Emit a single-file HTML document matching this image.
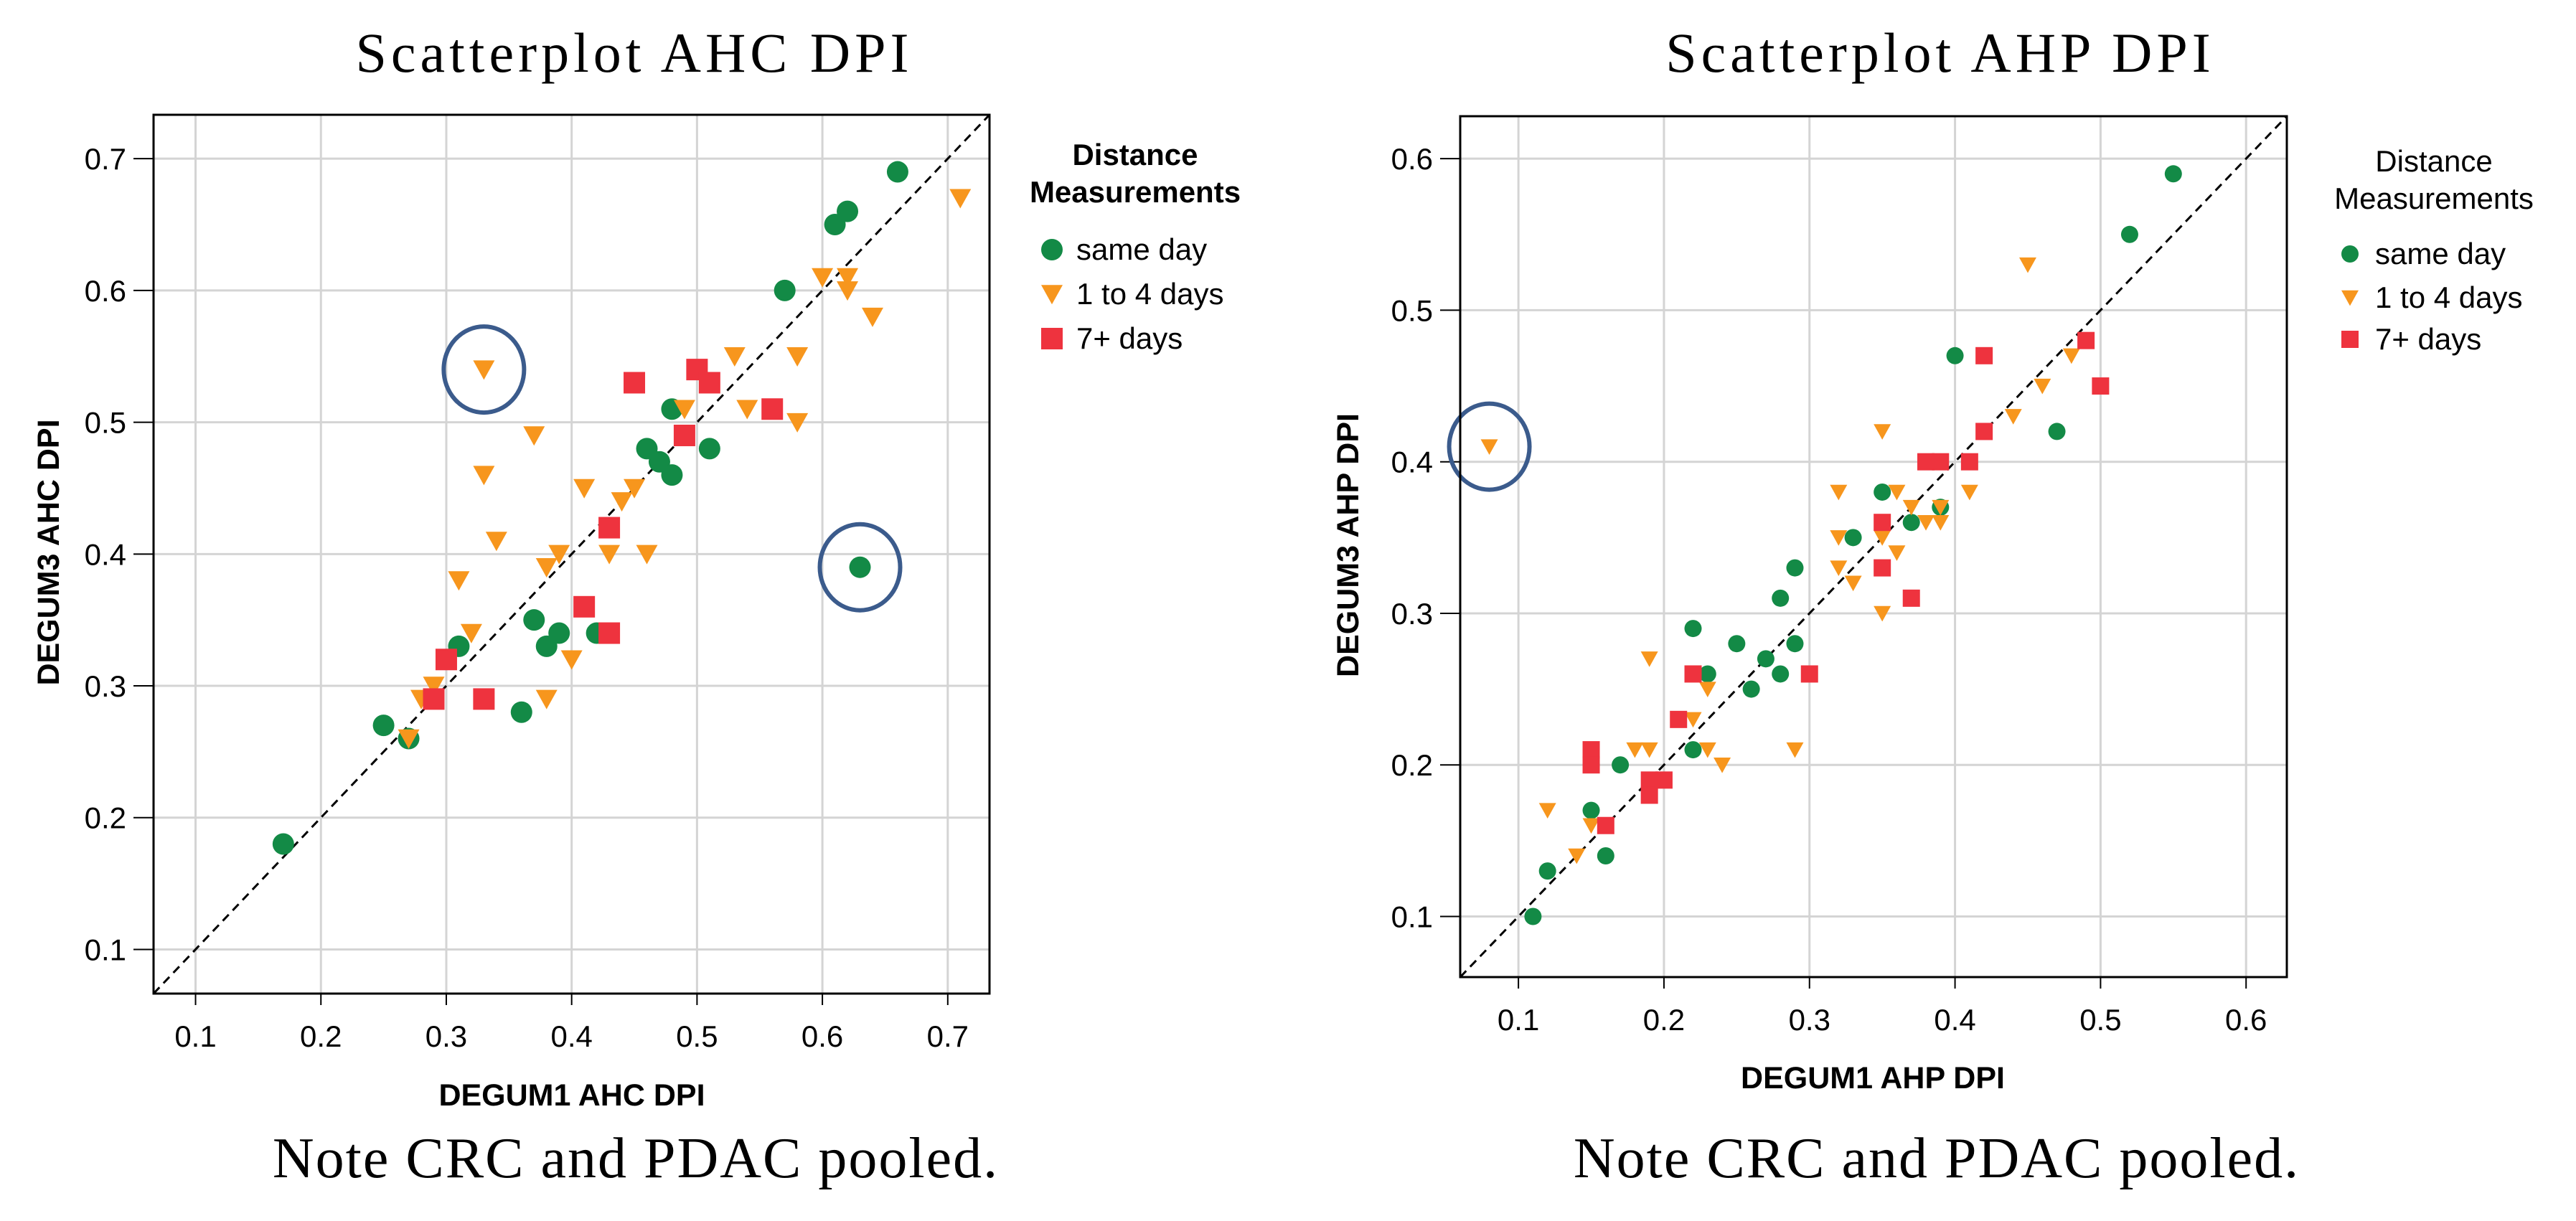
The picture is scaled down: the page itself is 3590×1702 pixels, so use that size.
<!DOCTYPE html>
<html><head><meta charset="utf-8"><style>
html,body{margin:0;padding:0;background:#fff;}
svg{display:block;}
</style></head><body>
<svg id="chart" width="3590" height="1702" xmlns="http://www.w3.org/2000/svg">
<rect x="0" y="0" width="3590" height="1702" fill="#fff"/>
<g id="left"></g>
<g id="right"></g>
</svg>
<script>
// ---- Left panel data (AHC DPI) ----
const ahcTicks = [0.1,0.2,0.3,0.4,0.5,0.6,0.7];
const ahcTickLabels = ["0.1","0.2","0.3","0.4","0.5","0.6","0.7"];
const ahcSameDayX = [0.17,0.25,0.27,0.31,0.36,0.37,0.38,0.39,0.42,0.46,0.47,0.48,0.48,0.51,0.57,0.61,0.62,0.66,0.63];
const ahcSameDayY = [0.18,0.27,0.26,0.33,0.28,0.35,0.33,0.34,0.34,0.48,0.47,0.46,0.51,0.48,0.60,0.65,0.66,0.69,0.39];
const ahc1to4X = [0.27,0.28,0.29,0.31,0.32,0.33,0.33,0.34,0.37,0.38,0.38,0.39,0.40,0.41,0.43,0.44,0.45,0.46,0.49,0.53,0.54,0.58,0.58,0.60,0.62,0.62,0.64,0.71];
const ahc1to4Y = [0.26,0.29,0.30,0.38,0.34,0.46,0.54,0.41,0.49,0.39,0.29,0.40,0.32,0.45,0.40,0.44,0.45,0.40,0.51,0.55,0.51,0.55,0.50,0.61,0.61,0.60,0.58,0.67];
const ahc7X = [0.29,0.30,0.33,0.41,0.43,0.43,0.45,0.49,0.50,0.51,0.56];
const ahc7Y = [0.29,0.32,0.29,0.36,0.42,0.34,0.53,0.49,0.54,0.53,0.51];
const ahcHighlightX = [0.33,0.63];
const ahcHighlightY = [0.54,0.39];

// ---- Right panel data (AHP DPI) ----
const ahpTicks = [0.1,0.2,0.3,0.4,0.5,0.6];
const ahpTickLabels = ["0.1","0.2","0.3","0.4","0.5","0.6"];
const ahpSameDayX = [0.11,0.12,0.15,0.16,0.17,0.22,0.22,0.23,0.25,0.26,0.27,0.28,0.28,0.29,0.29,0.33,0.35,0.37,0.39,0.40,0.47,0.52,0.55];
const ahpSameDayY = [0.10,0.13,0.17,0.14,0.20,0.29,0.21,0.26,0.28,0.25,0.27,0.31,0.26,0.33,0.28,0.35,0.38,0.36,0.37,0.47,0.42,0.55,0.59];
const ahp1to4X = [0.08,0.12,0.14,0.15,0.18,0.19,0.19,0.22,0.23,0.23,0.24,0.29,0.32,0.32,0.32,0.33,0.35,0.35,0.35,0.36,0.36,0.37,0.38,0.39,0.39,0.41,0.44,0.45,0.46,0.48];
const ahp1to4Y = [0.41,0.17,0.14,0.16,0.21,0.21,0.27,0.23,0.25,0.21,0.20,0.21,0.38,0.35,0.33,0.32,0.42,0.35,0.30,0.38,0.34,0.37,0.36,0.36,0.37,0.38,0.43,0.53,0.45,0.47];
const ahp7X = [0.15,0.15,0.16,0.19,0.19,0.20,0.21,0.22,0.30,0.35,0.35,0.37,0.38,0.39,0.41,0.42,0.42,0.49,0.50];
const ahp7Y = [0.21,0.20,0.16,0.19,0.18,0.19,0.23,0.26,0.26,0.36,0.33,0.31,0.40,0.40,0.40,0.42,0.47,0.48,0.45];
const ahpHighlightX = [0.08];
const ahpHighlightY = [0.41];

const NS = "http://www.w3.org/2000/svg";
const GREEN = "#138a46", ORANGE = "#f7961d", RED = "#ee333e";
function mk(tag, attrs, parent) {
  const e = document.createElementNS(NS, tag);
  for (const k in attrs) e.setAttribute(k, attrs[k]);
  parent.appendChild(e);
  return e;
}

function panel(g, cfg) {
  const sx = v => cfg.x0 + (v - cfg.d0) / (cfg.d1 - cfg.d0) * (cfg.x1 - cfg.x0);
  const sy = v => cfg.y1 - (v - cfg.d0) / (cfg.d1 - cfg.d0) * (cfg.y1 - cfg.y0);
  // title
  const t = mk('text', {x: cfg.titleX, y: 100, 'text-anchor': 'middle', 'font-family': 'Liberation Serif, serif', 'font-size': 78, 'letter-spacing': 6, fill: '#000'}, g);
  t.textContent = cfg.title;
  
  
  // grid
  cfg.ticks.forEach((v, i) => {
    const gx = mk('line', {x1: sx(v), x2: sx(v), y1: cfg.y0, y2: cfg.y1, stroke: '#d4d4d4', 'stroke-width': 3}, g);
    
    
    const gy = mk('line', {x1: cfg.x0, x2: cfg.x1, y1: sy(v), y2: sy(v), stroke: '#d4d4d4', 'stroke-width': 3}, g);
    
    
    const tx = mk('line', {x1: sx(v), x2: sx(v), y1: cfg.y1, y2: cfg.y1 + 16, stroke: '#000', 'stroke-width': 2}, g);
    
    
    const ty = mk('line', {x1: cfg.x0 - 28, x2: cfg.x0, y1: sy(v), y2: sy(v), stroke: '#000', 'stroke-width': 2}, g);
    
    
    const lx = mk('text', {x: sx(v), y: cfg.y1 + 74, 'text-anchor': 'middle', 'font-family': 'Liberation Sans, sans-serif', 'font-size': 42, fill: '#000'}, g);
    lx.textContent = cfg.labels[i];
    
    
    const ly = mk('text', {x: cfg.x0 - 38, y: sy(v) + 15, 'text-anchor': 'end', 'font-family': 'Liberation Sans, sans-serif', 'font-size': 42, fill: '#000'}, g);
    ly.textContent = cfg.labels[i];
    
    
  });
  // diagonal
  const d = mk('line', {x1: sx(cfg.d0), y1: sy(cfg.d0), x2: sx(cfg.d1), y2: sy(cfg.d1), stroke: '#000', 'stroke-width': 3, 'stroke-dasharray': '12,8'}, g);
  
  
  const r = cfg.ms;
  cfg.gx.forEach((v, i) => {
    const c = mk('ellipse', {cx: sx(v), cy: sy(cfg.gy[i]), rx: r, ry: r, fill: GREEN}, g);
    
    
  });
  cfg.ox.forEach((v, i) => {
    const x = sx(v), y = sy(cfg.oy[i]);
    const p = mk('polygon', {points: `${x - r},${y - r * 0.85} ${x + r},${y - r * 0.85} ${x},${y + r * 0.95}`, fill: ORANGE}, g);
    
    
  });
  cfg.rx.forEach((v, i) => {
    const q = mk('rect', {x: sx(v) - r, y: sy(cfg.ry[i]) - r, width: 2 * r, height: 2 * r, fill: RED}, g);
    
    
  });
  cfg.hx.forEach((v, i) => {
    const h = mk('ellipse', {cx: sx(v), cy: sy(cfg.hy[i]), rx: 56, ry: 60, fill: 'none', stroke: '#3b5b8c', 'stroke-width': 6}, g);
    
    
  });
  // frame
  const f = mk('rect', {x: cfg.x0, y: cfg.y0, width: cfg.x1 - cfg.x0, height: cfg.y1 - cfg.y0, fill: 'none', stroke: '#000', 'stroke-width': 3}, g);
  
  
  // axis titles
  const xt = mk('text', {x: cfg.xlabX, y: cfg.xlabY, 'text-anchor': 'middle', 'font-family': 'Liberation Sans, sans-serif', 'font-weight': 'bold', 'font-size': 43, fill: '#000'}, g);
  xt.textContent = cfg.xlab;
  
  
  const yt = mk('text', {x: 0, y: 0, 'text-anchor': 'middle', 'font-family': 'Liberation Sans, sans-serif', 'font-weight': 'bold', 'font-size': 43, fill: '#000', transform: `translate(${cfg.ylabX},${cfg.ylabY}) rotate(-90)`}, g);
  yt.textContent = cfg.ylab;
  
  
  // legend
  const lg = mk('g', {}, g);
  
  
  const fw = cfg.legBold ? 'bold' : 'normal';
  const l1 = mk('text', {x: cfg.legCX, y: cfg.legY0, 'text-anchor': 'middle', 'font-family': 'Liberation Sans, sans-serif', 'font-weight': fw, 'font-size': 42, fill: '#000'}, lg);
  l1.textContent = 'Distance';
  
  
  const l2 = mk('text', {x: cfg.legCX, y: cfg.legY0 + 52, 'text-anchor': 'middle', 'font-family': 'Liberation Sans, sans-serif', 'font-weight': fw, 'font-size': 42, fill: '#000'}, lg);
  l2.textContent = 'Measurements';
  
  
  const names = ['same day', '1 to 4 days', '7+ days'];
  names.forEach((n, i) => {
    const yb = cfg.legRows[i];
    const mx = cfg.legMX, my = yb - 14, lr = cfg.ms;
    let m;
    if (i === 0) m = mk('ellipse', {cx: mx, cy: my, rx: lr, ry: lr, fill: GREEN}, lg);
    else if (i === 1) m = mk('polygon', {points: `${mx - lr},${my - lr * 0.85} ${mx + lr},${my - lr * 0.85} ${mx},${my + lr * 0.95}`, fill: ORANGE}, lg);
    else m = mk('rect', {x: mx - lr, y: my - lr, width: 2 * lr, height: 2 * lr, fill: RED}, lg);
    
    
    const tx = mk('text', {x: cfg.legTX, y: yb, 'font-family': 'Liberation Sans, sans-serif', 'font-size': 42, fill: '#000'}, lg);
    tx.textContent = n;
    
    
  });
  // footnote
  const fn = mk('text', {x: cfg.noteX, y: 1641, 'text-anchor': 'middle', 'font-family': 'Liberation Serif, serif', 'font-size': 80, 'letter-spacing': 2, fill: '#000'}, g);
  fn.textContent = 'Note CRC and PDAC pooled.';
  
  
}

panel(document.getElementById('left'), {
  title: 'Scatterplot AHC DPI', titleX: 884,
  x0: 214, x1: 1379, y0: 160, y1: 1385, d0: 0.0665, d1: 0.7333,
  ticks: ahcTicks, labels: ahcTickLabels, ms: 15,
  gx: ahcSameDayX, gy: ahcSameDayY, ox: ahc1to4X, oy: ahc1to4Y, rx: ahc7X, ry: ahc7Y,
  hx: ahcHighlightX, hy: ahcHighlightY,
  xlab: 'DEGUM1 AHC DPI', xlabX: 797, xlabY: 1541,
  ylab: 'DEGUM3 AHC DPI', ylabX: 82, ylabY: 770,
  legCX: 1582, legY0: 230, legBold: true, legRows: [362, 424, 486], legMX: 1466, legTX: 1500,
  noteX: 886
});
panel(document.getElementById('right'), {
  title: 'Scatterplot AHP DPI', titleX: 2704,
  x0: 2035, x1: 3187, y0: 162, y1: 1362, d0: 0.06, d1: 0.628,
  ticks: ahpTicks, labels: ahpTickLabels, ms: 12,
  gx: ahpSameDayX, gy: ahpSameDayY, ox: ahp1to4X, oy: ahp1to4Y, rx: ahp7X, ry: ahp7Y,
  hx: ahpHighlightX, hy: ahpHighlightY,
  xlab: 'DEGUM1 AHP DPI', xlabX: 2610, xlabY: 1517,
  ylab: 'DEGUM3 AHP DPI', ylabX: 1893, ylabY: 760,
  legCX: 3392, legY0: 239, legBold: false, legRows: [368, 429, 487], legMX: 3275, legTX: 3310,
  noteX: 2699
});
</script>
</body></html>
